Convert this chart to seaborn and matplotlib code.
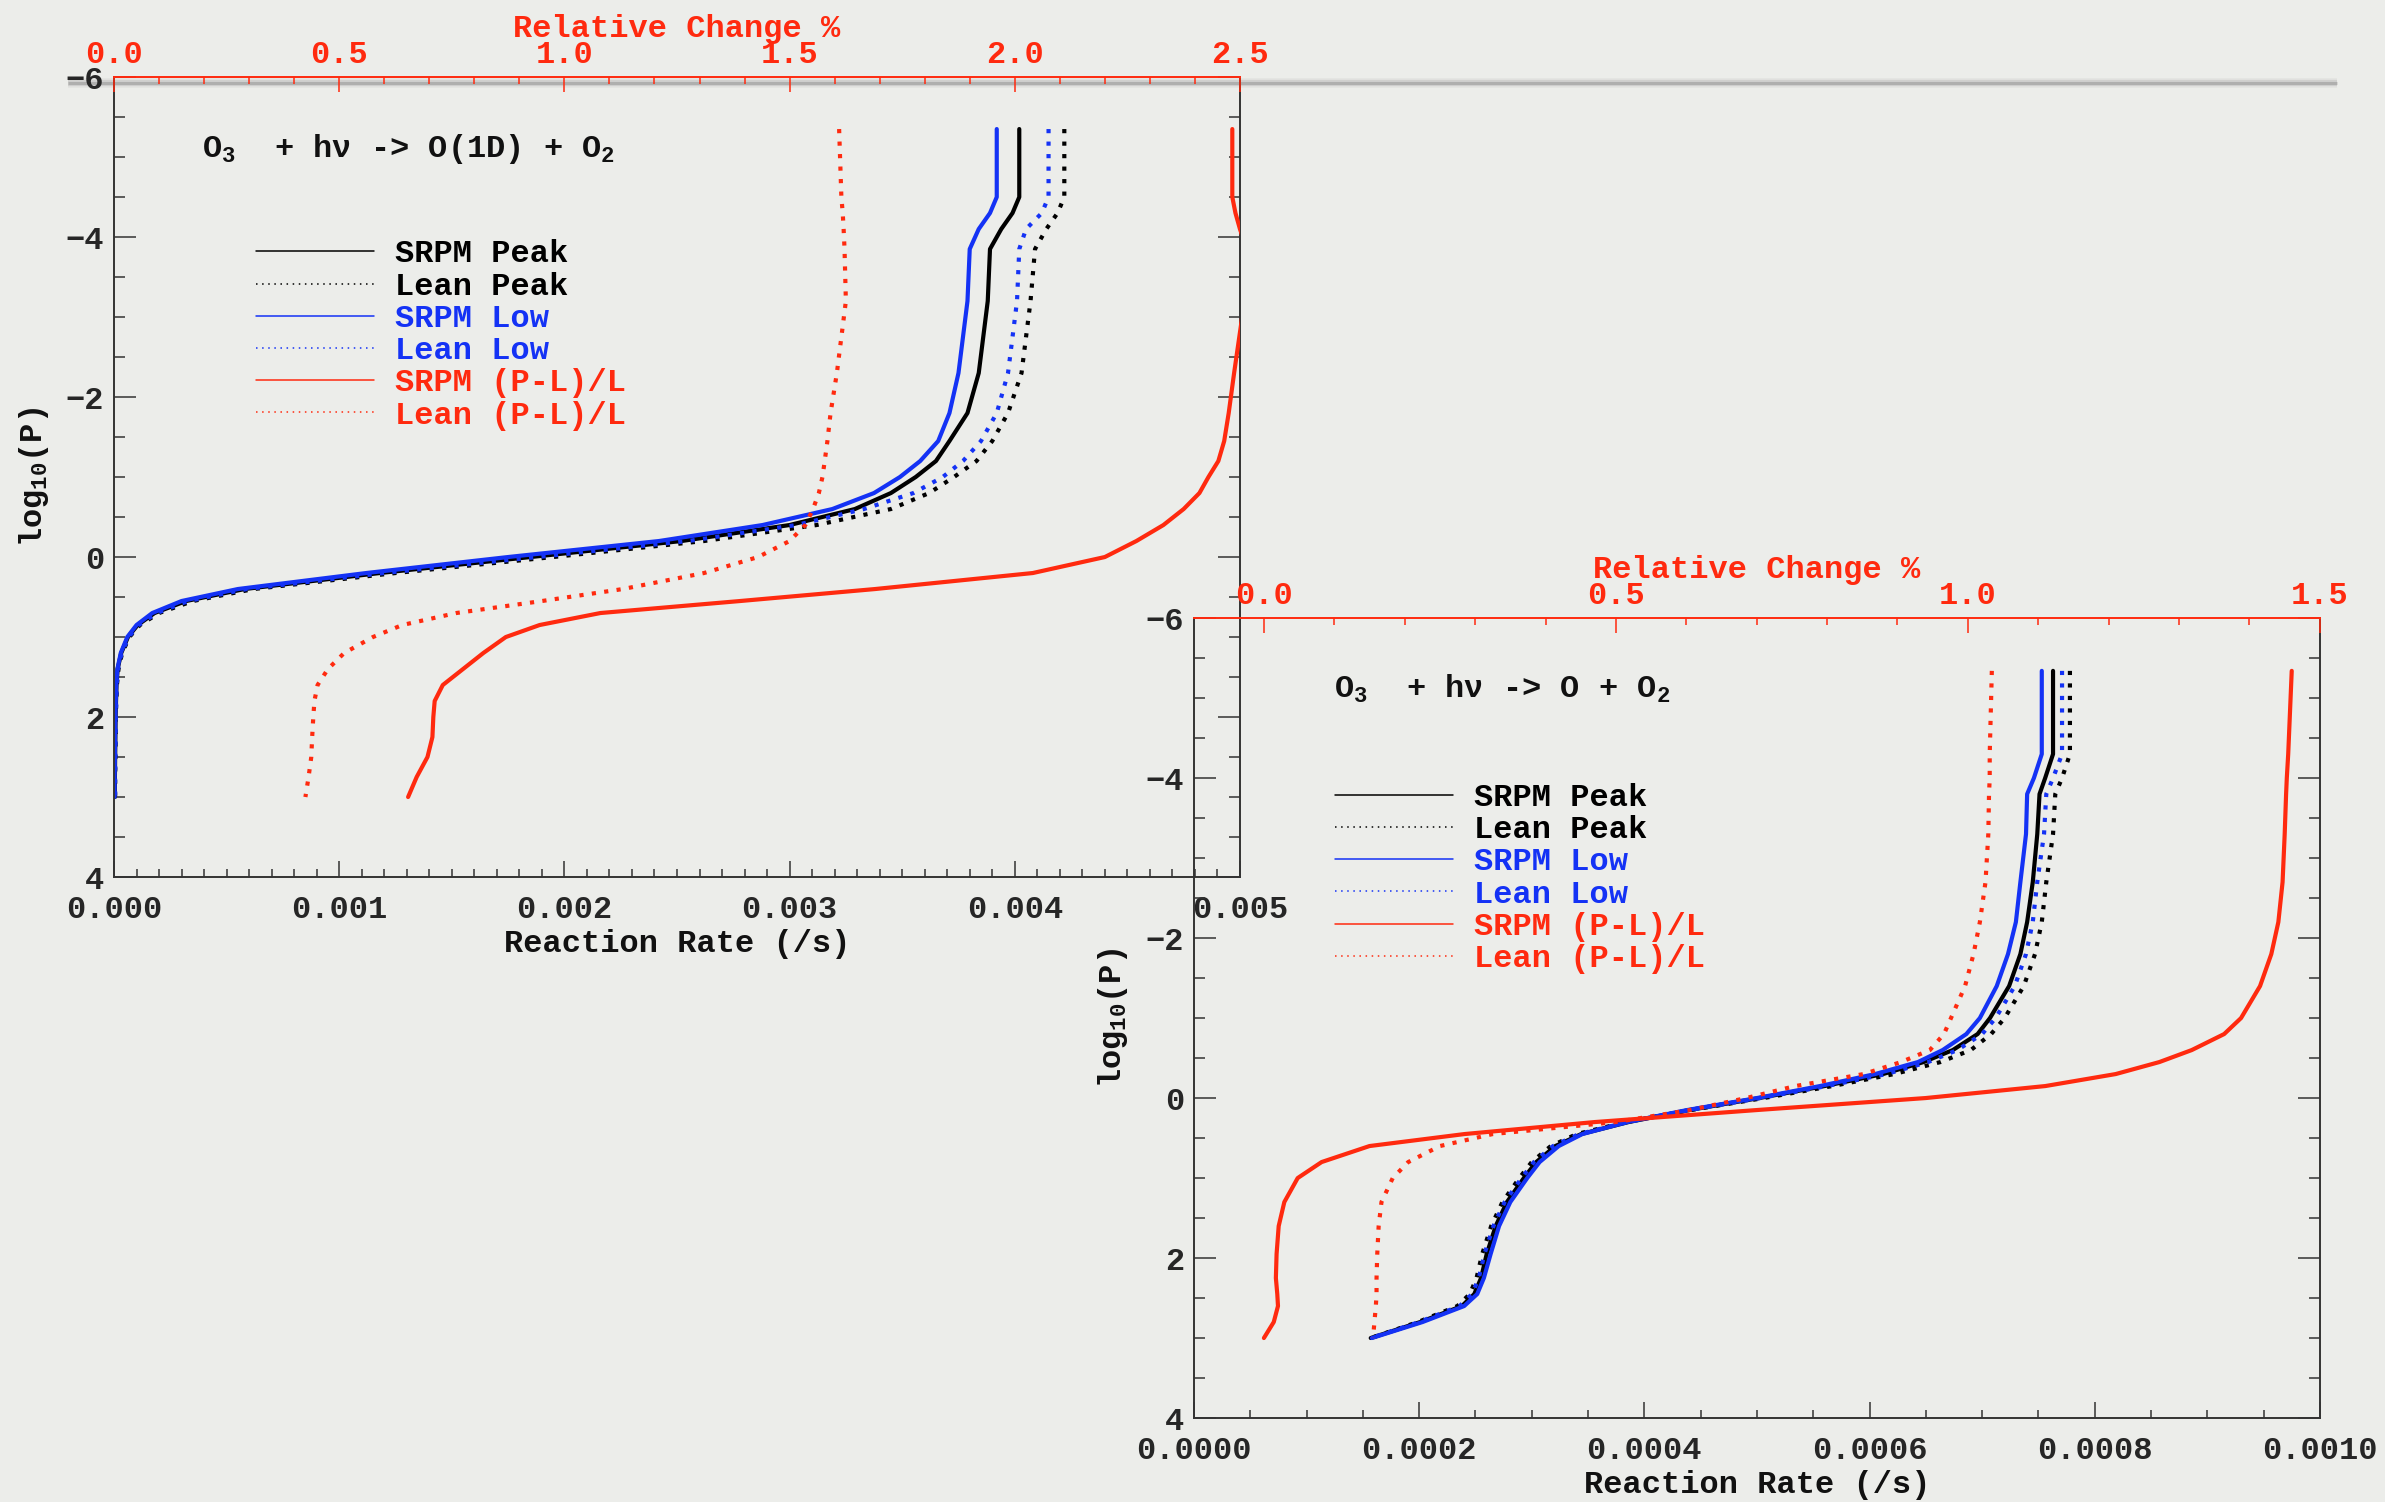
import numpy as np
import matplotlib
matplotlib.use("Agg")
import matplotlib.pyplot as plt
from matplotlib.lines import Line2D
from matplotlib.ticker import MultipleLocator, FormatStrFormatter
import seaborn as sns

# ---------------------------------------------------------------------------
# O3 + hv -> O(1D) + O2 : log10(P) levels, rates in 1e-3 /s, relative change %
# ---------------------------------------------------------------------------
logp_o1d = [-5.35, -4.5, -4.3, -4.1, -3.85, -3.2, -2.3, -1.8, -1.45, -1.2, -1.0,
            -0.8, -0.6, -0.4, -0.2, 0.0, 0.2, 0.4, 0.55, 0.7, 0.85, 1.0, 1.2,
            1.4, 1.6, 1.8, 2.0, 2.25, 2.5, 2.75, 3.0]
srpm_peak_o1d = [4.02, 4.02, 3.99, 3.94, 3.89, 3.88, 3.84, 3.79, 3.71, 3.65, 3.56,
                 3.45, 3.29, 3.00, 2.52, 1.85, 1.18, 0.58, 0.32, 0.18, 0.105, 0.062,
                 0.032, 0.016, 0.011, 0.009, 0.007, 0.006, 0.005, 0.004, 0.004]
lean_peak_o1d = [4.22, 4.22, 4.19, 4.14, 4.09, 4.07, 4.03, 3.97, 3.90, 3.83, 3.73,
                 3.62, 3.45, 3.12, 2.62, 1.95, 1.25, 0.62, 0.35, 0.20, 0.115, 0.068,
                 0.036, 0.020, 0.013, 0.010, 0.008, 0.007, 0.006, 0.005, 0.005]
srpm_low_o1d = [3.92, 3.92, 3.89, 3.84, 3.80, 3.79, 3.75, 3.71, 3.66, 3.58, 3.49,
                3.375, 3.19, 2.88, 2.42, 1.75, 1.12, 0.55, 0.30, 0.17, 0.10, 0.059,
                0.030, 0.015, 0.010, 0.008, 0.006, 0.005, 0.004, 0.003, 0.003]
lean_low_o1d = [4.15, 4.15, 4.12, 4.05, 4.02, 4.01, 3.97, 3.92, 3.85, 3.77, 3.68,
                3.55, 3.33, 3.03, 2.55, 1.88, 1.20, 0.59, 0.33, 0.19, 0.11, 0.065,
                0.034, 0.018, 0.012, 0.010, 0.008, 0.007, 0.006, 0.005, 0.005]
srpm_rel_o1d = [2.483, 2.483, 2.49, 2.50, 2.515, 2.51, 2.487, 2.475, 2.465, 2.452, 2.43,
                2.41, 2.375, 2.33, 2.27, 2.20, 2.04, 1.69, 1.39, 1.08, 0.945, 0.87,
                0.82, 0.775, 0.73, 0.712, 0.709, 0.707, 0.696, 0.672, 0.653]
lean_rel_o1d = [1.61, 1.615, 1.618, 1.62, 1.622, 1.625, 1.605, 1.591, 1.584, 1.578, 1.573,
                1.565, 1.552, 1.535, 1.50, 1.43, 1.31, 1.13, 0.95, 0.76, 0.64, 0.575,
                0.511, 0.475, 0.452, 0.445, 0.4425, 0.44, 0.438, 0.432, 0.425]

# ---------------------------------------------------------------------------
# O3 + hv -> O + O2
# ---------------------------------------------------------------------------
logp_o = [-5.34, -4.3, -4.0, -3.8, -3.3, -2.7, -2.2, -1.8, -1.4, -1.0, -0.8, -0.6,
          -0.45, -0.3, -0.15, 0.0, 0.15, 0.3, 0.45, 0.6, 0.8, 1.0, 1.3, 1.6, 1.95,
          2.25, 2.45, 2.6, 2.8, 3.0]
srpm_peak_o = [0.763, 0.763, 0.756, 0.751, 0.749, 0.745, 0.740, 0.734, 0.724, 0.707,
               0.696, 0.674, 0.648, 0.612, 0.560, 0.502, 0.440, 0.386, 0.344, 0.321,
               0.304, 0.293, 0.278, 0.268, 0.260, 0.255, 0.249, 0.238, 0.201, 0.157]
lean_peak_o = [0.778, 0.778, 0.771, 0.765, 0.763, 0.757, 0.753, 0.747, 0.737, 0.720,
               0.708, 0.690, 0.663, 0.622, 0.567, 0.506, 0.441, 0.384, 0.340, 0.317,
               0.300, 0.289, 0.274, 0.264, 0.256, 0.251, 0.245, 0.234, 0.199, 0.157]
srpm_low_o = [0.753, 0.753, 0.746, 0.740, 0.739, 0.734, 0.730, 0.723, 0.713, 0.698,
              0.686, 0.665, 0.643, 0.605, 0.556, 0.500, 0.438, 0.385, 0.345, 0.324,
              0.307, 0.296, 0.281, 0.271, 0.2635, 0.2575, 0.2516, 0.240, 0.203, 0.158]
lean_low_o = [0.771, 0.771, 0.763, 0.757, 0.755, 0.749, 0.745, 0.739, 0.729, 0.712,
              0.700, 0.678, 0.652, 0.615, 0.562, 0.503, 0.440, 0.385, 0.342, 0.319,
              0.302, 0.291, 0.276, 0.266, 0.258, 0.253, 0.247, 0.236, 0.200, 0.157]
srpm_rel_o = [1.460, 1.455, 1.453, 1.452, 1.450, 1.447, 1.441, 1.431, 1.415, 1.388,
              1.364, 1.318, 1.272, 1.21, 1.11, 0.94, 0.70, 0.47, 0.285, 0.150,
              0.082, 0.048, 0.029, 0.021, 0.018, 0.017, 0.019, 0.020, 0.014, 0.000]
lean_rel_o = [1.034, 1.031, 1.031, 1.030, 1.029, 1.025, 1.017, 1.008, 0.996, 0.976,
              0.966, 0.946, 0.905, 0.852, 0.755, 0.685, 0.605, 0.50, 0.325, 0.25,
              0.205, 0.183, 0.167, 0.163, 0.161, 0.160, 0.160, 0.159, 0.157, 0.155]

series_labels = ["SRPM Peak", "Lean Peak", "SRPM Low", "Lean Low",
                 "SRPM (P-L)/L", "Lean (P-L)/L"]

BG = "#ecedea"
BLUE = "#1432f5"
RED = "#ff2a0f"
INK = "#111111"
DOT = (0, (1, 2))
LW = 3.0

sns.set_style("ticks")
plt.rcParams.update({
    "font.family": ["Liberation Mono", "DejaVu Sans Mono"],
    "font.weight": "bold",
    "axes.labelweight": "bold",
    "mathtext.fontset": "custom",
    "mathtext.rm": "Liberation Mono:bold",
    "mathtext.it": "Liberation Mono:bold",
    "mathtext.bf": "Liberation Mono:bold",
    "axes.unicode_minus": True,
    "lines.dash_capstyle": "butt",
})

fig = plt.figure(figsize=(23.85, 15.02), dpi=100, facecolor=BG)

# faint grey rule running across the top of the sheet
for lw, a in [(7, 0.08), (4.5, 0.18), (2.2, 0.38)]:
    fig.add_artist(Line2D([0.0285, 0.980], [0.9447, 0.9447], transform=fig.transFigure,
                          color="#7a7a7a", lw=lw, alpha=a, zorder=-1,
                          solid_capstyle="butt"))


def draw_panel(rect, logp, rates, rels, rate_max, rate_major, rate_minor, rate_fmt,
               rel_lim, reaction, leg_anchor, text_xy):
    ax = fig.add_axes(rect)
    ax.set_facecolor("none")
    for vals, color, ls in rates:
        sns.lineplot(x=np.asarray(vals) * 1e-3, y=logp, ax=ax, sort=False,
                     estimator=None, color=color, linestyle=ls, linewidth=LW)
    ax.set_xlim(0, rate_max)
    ax.set_ylim(4, -6)
    ax.xaxis.set_major_locator(MultipleLocator(rate_major))
    ax.xaxis.set_minor_locator(MultipleLocator(rate_minor))
    ax.xaxis.set_major_formatter(FormatStrFormatter(rate_fmt))
    ax.yaxis.set_major_locator(MultipleLocator(2))
    ax.yaxis.set_minor_locator(MultipleLocator(0.5))
    ax.tick_params(axis="x", which="both", direction="in", top=False, bottom=True,
                   labelsize=23, pad=13, color="#333333", width=1.1)
    ax.tick_params(axis="x", which="major", length=11.5)
    ax.tick_params(axis="x", which="minor", length=5.8)
    ax.tick_params(axis="y", which="both", direction="in", left=True, right=True,
                   labelsize=23, pad=7, color="#333333", width=1.1)
    ax.tick_params(axis="y", which="major", length=15.8)
    ax.tick_params(axis="y", which="minor", length=8)
    for side in ["left", "right", "bottom"]:
        ax.spines[side].set_color("#333333")
        ax.spines[side].set_linewidth(1.4)
    ax.spines["top"].set_visible(False)
    ax.set_xlabel("Reaction Rate (/s)", fontsize=23, labelpad=3, color=INK)
    ax.set_ylabel(r"log$_\mathregular{10}$(P)", fontsize=23, labelpad=11, color=INK)

    top = ax.twiny()
    top.set_facecolor("none")
    for vals, ls in rels:
        sns.lineplot(x=vals, y=logp, ax=top, sort=False, estimator=None,
                     color=RED, linestyle=ls, linewidth=LW)
    top.set_xlim(*rel_lim)
    top.set_ylim(4, -6)
    top.xaxis.set_major_locator(MultipleLocator(0.5))
    top.xaxis.set_minor_locator(MultipleLocator(0.1))
    top.xaxis.set_major_formatter(FormatStrFormatter("%.1f"))
    top.tick_params(axis="x", which="both", direction="in", top=True, bottom=False,
                    labeltop=True, labelbottom=False, labelsize=23, pad=5,
                    color=RED, labelcolor=RED, width=1.1)
    top.tick_params(axis="x", which="major", length=10.8)
    top.tick_params(axis="x", which="minor", length=5)
    top.tick_params(axis="y", which="both", left=False, right=False,
                    labelleft=False, labelright=False)
    for side in ["left", "right", "bottom"]:
        top.spines[side].set_visible(False)
    top.spines["top"].set_color(RED)
    top.spines["top"].set_linewidth(1.4)
    top.set_xlabel("Relative Change %", fontsize=23, color=RED, labelpad=2)
    top.set_ylabel("")

    handles = [
        Line2D([], [], color="black", lw=1.1),
        Line2D([], [], color="black", lw=1.1, linestyle=(0, (1, 3))),
        Line2D([], [], color=BLUE, lw=1.1),
        Line2D([], [], color=BLUE, lw=1.1, linestyle=(0, (1, 3))),
        Line2D([], [], color=RED, lw=1.1),
        Line2D([], [], color=RED, lw=1.1, linestyle=(0, (1, 3))),
    ]
    ax.legend(handles, series_labels, loc="upper left", bbox_to_anchor=leg_anchor,
              frameon=False, borderpad=0, borderaxespad=0, handlelength=3.7,
              handletextpad=0.66, labelspacing=0.07,
              prop={"size": 23, "weight": "bold"},
              labelcolor=["black", "black", BLUE, BLUE, RED, RED])
    ax.text(text_xy[0], text_xy[1], reaction, transform=ax.transAxes,
            fontsize=23, ha="left", va="center", color=INK)
    return ax, top


draw_panel(
    [0.0478, 0.4161, 0.4721, 0.5326], logp_o1d,
    [(srpm_peak_o1d, "black", "-"), (lean_peak_o1d, "black", DOT),
     (srpm_low_o1d, BLUE, "-"), (lean_low_o1d, BLUE, DOT)],
    [(srpm_rel_o1d, "-"), (lean_rel_o1d, DOT)],
    0.005, 0.001, 0.0001, "%.3f", (0.0, 2.5),
    r"O$_\mathregular{3}$  + hν -> O(1D) + O$_\mathregular{2}$",
    (0.1261, 0.797), (0.078, 0.91),
)

draw_panel(
    [0.5006, 0.0559, 0.4721, 0.5326], logp_o,
    [(srpm_peak_o, "black", "-"), (lean_peak_o, "black", DOT),
     (srpm_low_o, BLUE, "-"), (lean_low_o, BLUE, DOT)],
    [(srpm_rel_o, "-"), (lean_rel_o, DOT)],
    0.001, 0.0002, 0.00005, "%.4f", (-0.0994, 1.5),
    r"O$_\mathregular{3}$  + hν -> O + O$_\mathregular{2}$",
    (0.1252, 0.794), (0.124, 0.911),
)

fig.savefig("out.png", dpi=100, facecolor=BG)
